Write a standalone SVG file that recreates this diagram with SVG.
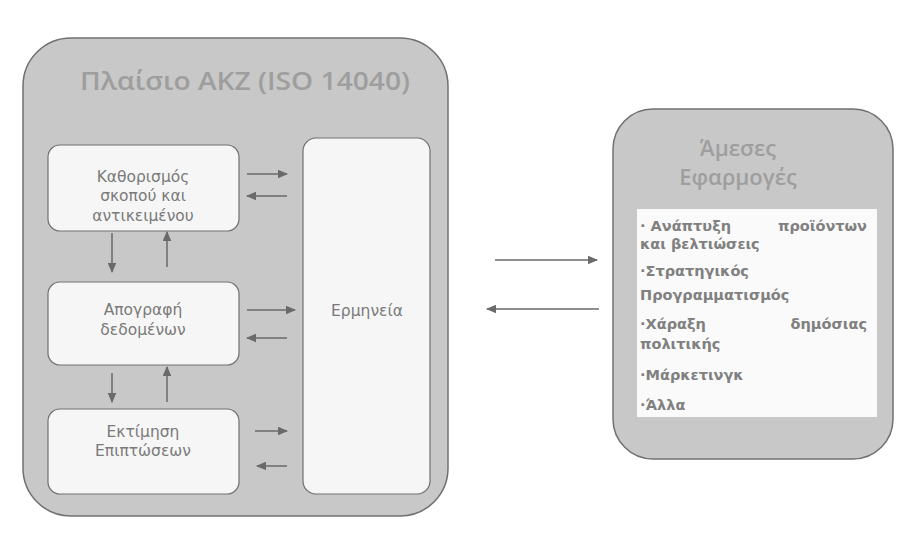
<svg xmlns="http://www.w3.org/2000/svg" width="911" height="537" viewBox="0 0 911 537">
<defs>
<style>
.frame{fill:#c8c8c8;stroke:#707070;stroke-width:1.5}
.box{fill:#f6f6f6;stroke:#707070;stroke-width:1.2}
.t{font-family:"DejaVu Sans","Liberation Sans",sans-serif;fill:#7a7a7a;font-size:15.5px;text-anchor:middle}
.title{font-family:"Open Sans","DejaVu Sans",sans-serif;fill:#9e9e9e;text-anchor:middle;font-weight:600}
.li{font-family:"DejaVu Sans","Liberation Sans",sans-serif;fill:#808080;font-size:14.5px;font-weight:bold}
.c{stroke:#6a6a6a;stroke-width:1.5;fill:none;marker-end:url(#ah)}
</style>
<marker id="ah" viewBox="0 0 10 10" refX="9" refY="5" markerWidth="7" markerHeight="6" orient="auto" markerUnits="strokeWidth" preserveAspectRatio="none">
<path d="M0,0 L10,5 L0,10 z" fill="#6a6a6a"/>
</marker>
</defs>
<rect width="911" height="537" fill="#ffffff"/>
<g id="frame-akz">
<rect class="frame" x="23" y="38" width="425" height="478" rx="48" ry="48"/>
<text class="title" x="245" y="90" font-size="26" textLength="330" lengthAdjust="spacingAndGlyphs">Πλαίσιο AKZ (ISO 14040)</text>
</g>
<g id="node-kathorismos">
<rect class="box" x="48" y="145" width="191" height="86" rx="12"/>
<text class="t" x="143" y="182">Καθορισμός</text>
<text class="t" x="143" y="201">σκοπού και</text>
<text class="t" x="143" y="221">αντικειμένου</text>
</g>
<g id="node-apografi">
<rect class="box" x="48" y="282" width="191" height="83" rx="12"/>
<text class="t" x="143" y="315">Απογραφή</text>
<text class="t" x="143" y="335">δεδομένων</text>
</g>
<g id="node-ektimisi">
<rect class="box" x="48" y="409" width="191" height="85" rx="12"/>
<text class="t" x="143" y="437">Εκτίμηση</text>
<text class="t" x="143" y="456">Επιπτώσεων</text>
</g>
<g id="node-ermineia">
<rect class="box" x="303" y="138" width="127" height="356" rx="13"/>
<text class="t" x="367" y="316">Ερμηνεία</text>
</g>
<g id="node-efarmoges">
<rect class="frame" x="613" y="109" width="280" height="350" rx="40" ry="40"/>
<text class="title" x="738" y="156" font-size="22">Άμεσες</text>
<text class="title" x="738" y="185" font-size="22">Εφαρμογές</text>
<rect x="637" y="209" width="240" height="208" fill="#fafafa"/>
<text class="li" x="640" y="231">· Ανάπτυξη</text>
<text class="li" x="867" y="231" text-anchor="end">προϊόντων</text>
<text class="li" x="640" y="249">και βελτιώσεις</text>
<text class="li" x="640" y="276">·Στρατηγικός</text>
<text class="li" x="640" y="300">Προγραμματισμός</text>
<text class="li" x="640" y="329">·Χάραξη</text>
<text class="li" x="867" y="329" text-anchor="end">δημόσιας</text>
<text class="li" x="640" y="349">πολιτικής</text>
<text class="li" x="640" y="380">·Μάρκετινγκ</text>
<text class="li" x="640" y="410">·Άλλα</text>
</g>
<g id="connectors">
<line class="c" x1="247" y1="174" x2="287" y2="174"/>
<line class="c" x1="287" y1="196" x2="247" y2="196"/>
<line class="c" x1="247" y1="310" x2="295" y2="310"/>
<line class="c" x1="287" y1="338" x2="247" y2="338"/>
<line class="c" x1="255" y1="431" x2="287" y2="431"/>
<line class="c" x1="287" y1="466" x2="257" y2="466"/>
<line class="c" x1="112" y1="233" x2="112" y2="272"/>
<line class="c" x1="167" y1="267" x2="167" y2="232"/>
<line class="c" x1="112" y1="373" x2="112" y2="402"/>
<line class="c" x1="167" y1="402" x2="167" y2="367"/>
<line class="c" x1="495" y1="260" x2="597" y2="260"/>
<line class="c" x1="599" y1="309" x2="487" y2="309"/>
</g>
</svg>
